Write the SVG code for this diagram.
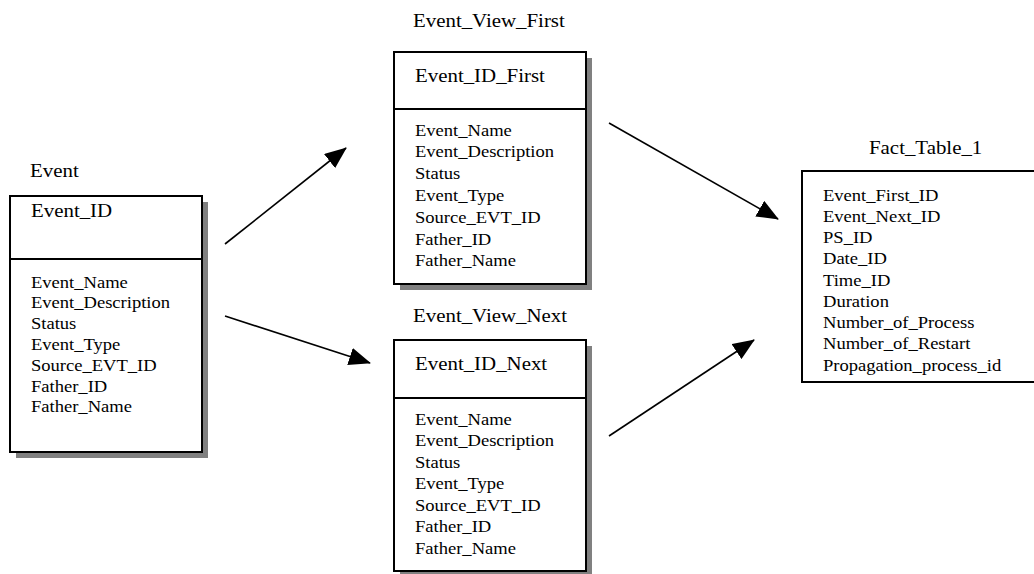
<svg xmlns="http://www.w3.org/2000/svg" width="1034" height="574" viewBox="0 0 1034 574">
  <style>
    text { font-family: "Liberation Serif", "Times New Roman", serif; fill: #000; }
    .title, .key { font-size: 18px; }
    .attr { font-size: 16px; }
    .box { fill: #fff; stroke: #000; stroke-width: 2; }
    .shadow { fill: #808080; stroke: none; }
    .divider { stroke: #000; stroke-width: 2; }
    .link { stroke: #000; stroke-width: 1.6; fill: none; marker-end: url(#arrow); }
  </style>
  <defs>
    <marker id="arrow" viewBox="0 0 22 18" refX="21" refY="9" markerWidth="22" markerHeight="18" markerUnits="userSpaceOnUse" orient="auto">
      <path d="M0,0 L22,9 L0,18 Z" fill="#000"/>
    </marker>
  </defs>
  <rect width="1034" height="574" fill="#fff"/>

  <!-- Event table -->
  <g id="event">
    <g transform="translate(30 177) scale(1.16 1)"><text class="title" x="0" y="0">Event</text></g>
    <rect class="shadow" x="16" y="202" width="192" height="256"/>
    <rect class="box" x="10" y="196" width="192" height="256"/>
    <line class="divider" x1="10" y1="259" x2="202" y2="259"/>
    <g transform="translate(31 0) scale(1.16 1)">
      <text class="key" x="0" y="217">Event_ID</text>
      <text class="attr" x="0" y="287.7">Event_Name</text>
      <text class="attr" x="0" y="308.5">Event_Description</text>
      <text class="attr" x="0" y="329.3">Status</text>
      <text class="attr" x="0" y="350.1">Event_Type</text>
      <text class="attr" x="0" y="370.9">Source_EVT_ID</text>
      <text class="attr" x="0" y="391.7">Father_ID</text>
      <text class="attr" x="0" y="412.5">Father_Name</text>
    </g>
  </g>

  <!-- Event_View_First table -->
  <g id="event-view-first">
    <g transform="translate(413 27) scale(1.16 1)"><text class="title" x="0" y="0">Event_View_First</text></g>
    <rect class="shadow" x="400" y="58" width="192" height="232"/>
    <rect class="box" x="394" y="52" width="192" height="232"/>
    <line class="divider" x1="394" y1="109" x2="586" y2="109"/>
    <g transform="translate(415 0) scale(1.16 1)">
      <text class="key" x="0" y="82">Event_ID_First</text>
      <text class="attr" x="0" y="135.7">Event_Name</text>
      <text class="attr" x="0" y="157.5">Event_Description</text>
      <text class="attr" x="0" y="179.3">Status</text>
      <text class="attr" x="0" y="201.1">Event_Type</text>
      <text class="attr" x="0" y="222.9">Source_EVT_ID</text>
      <text class="attr" x="0" y="244.7">Father_ID</text>
      <text class="attr" x="0" y="266.5">Father_Name</text>
    </g>
  </g>

  <!-- Event_View_Next table -->
  <g id="event-view-next">
    <g transform="translate(413 322) scale(1.16 1)"><text class="title" x="0" y="0">Event_View_Next</text></g>
    <rect class="shadow" x="400" y="346" width="192" height="231"/>
    <rect class="box" x="394" y="340" width="192" height="231"/>
    <line class="divider" x1="394" y1="398" x2="586" y2="398"/>
    <g transform="translate(415 0) scale(1.16 1)">
      <text class="key" x="0" y="370">Event_ID_Next</text>
      <text class="attr" x="0" y="425">Event_Name</text>
      <text class="attr" x="0" y="446.5">Event_Description</text>
      <text class="attr" x="0" y="468">Status</text>
      <text class="attr" x="0" y="489.5">Event_Type</text>
      <text class="attr" x="0" y="511">Source_EVT_ID</text>
      <text class="attr" x="0" y="532.5">Father_ID</text>
      <text class="attr" x="0" y="554">Father_Name</text>
    </g>
  </g>

  <!-- Fact_Table_1 -->
  <g id="fact-table-1">
    <g transform="translate(869 154) scale(1.16 1)"><text class="title" x="0" y="0">Fact_Table_1</text></g>
    <rect class="box" x="802" y="171" width="250" height="211"/>
    <g transform="translate(823 0) scale(1.16 1)">
      <text class="attr" x="0" y="200.7">Event_First_ID</text>
      <text class="attr" x="0" y="222">Event_Next_ID</text>
      <text class="attr" x="0" y="243.2">PS_ID</text>
      <text class="attr" x="0" y="264.5">Date_ID</text>
      <text class="attr" x="0" y="285.7">Time_ID</text>
      <text class="attr" x="0" y="307">Duration</text>
      <text class="attr" x="0" y="328.2">Number_of_Process</text>
      <text class="attr" x="0" y="349.5">Number_of_Restart</text>
      <text class="attr" x="0" y="370.7">Propagation_process_id</text>
    </g>
  </g>

  <!-- Connectors -->
  <g id="connectors">
    <line class="link" x1="225" y1="244" x2="346" y2="148"/>
    <line class="link" x1="225" y1="316" x2="370" y2="363"/>
    <line class="link" x1="609" y1="123" x2="778" y2="219"/>
    <line class="link" x1="609" y1="436" x2="754" y2="340"/>
  </g>
</svg>
